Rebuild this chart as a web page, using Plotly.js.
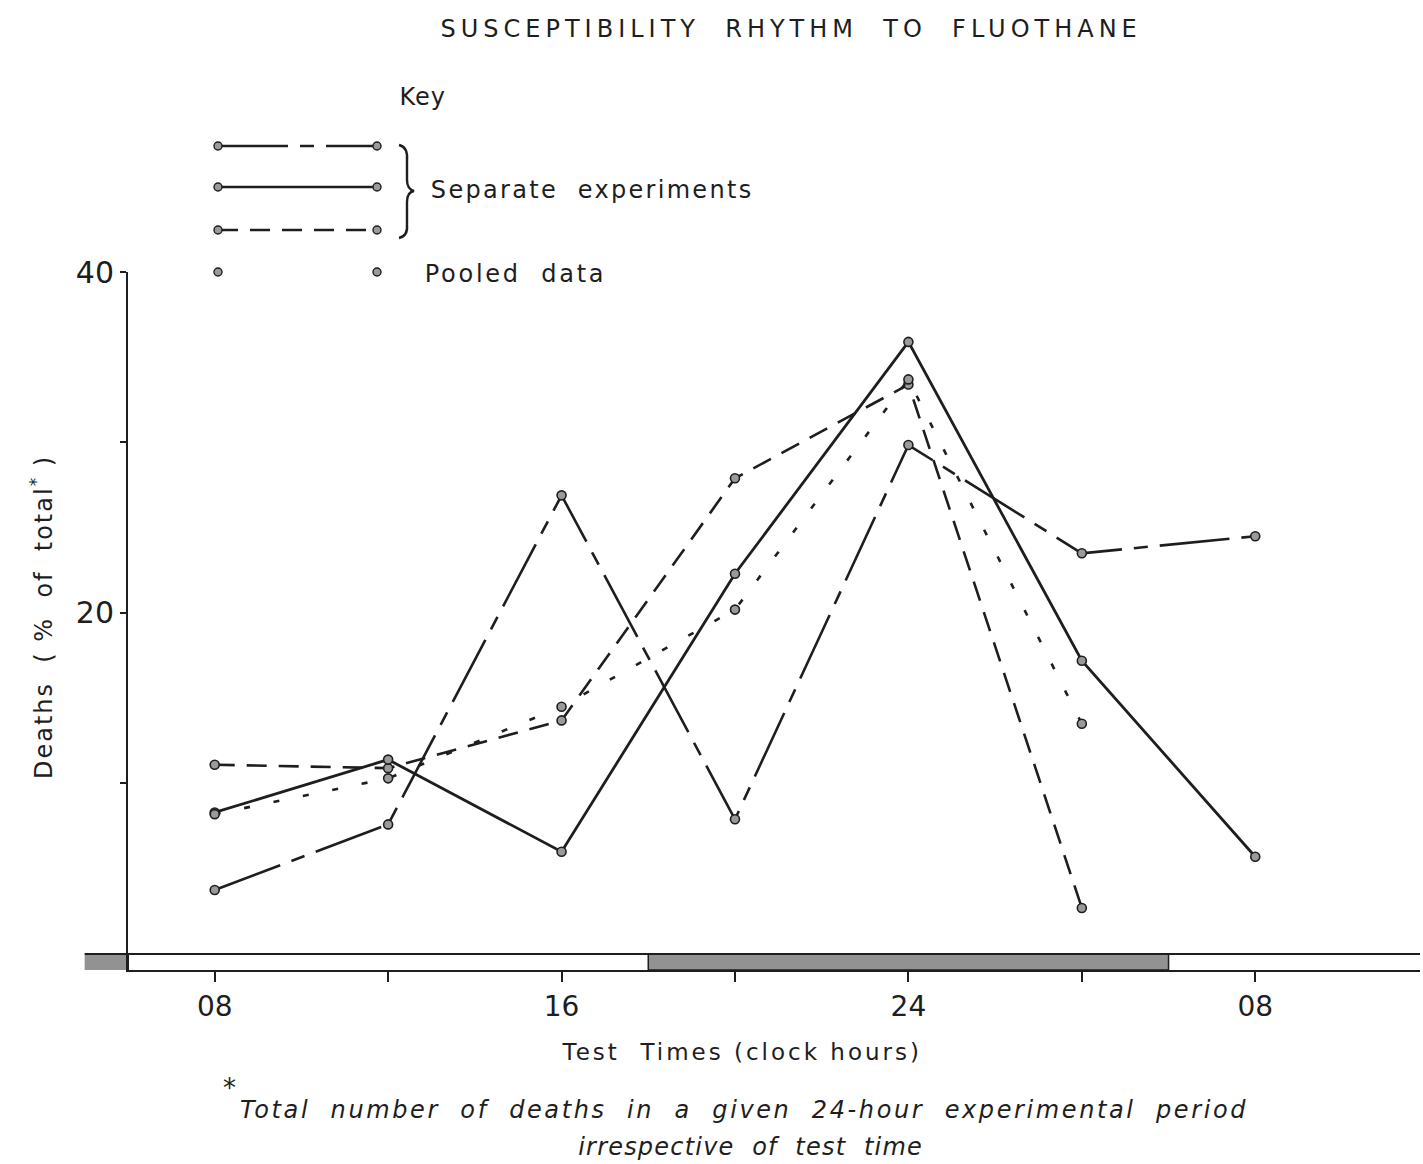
<!DOCTYPE html>
<html>
<head>
<meta charset="utf-8">
<script src="https://cdn.plot.ly/plotly-3.0.1.min.js"></script>
<style>
  html, body { margin: 0; padding: 0; background: #fff; }
  #chart { width: 1423px; height: 1164px; }
</style>
</head>
<body>
<div id="chart"></div>
<script>
// ---- data ----
const testHours  = [8, 12, 16, 20, 24, 28, 32];          // clock hours, 08 -> 08 next day
const labelHours = [8, 16, 24, 32];
const tickLabels = ['08', '16', '24', '08'];
const expA   = [3.75, 7.6, 26.9, 7.9, 29.85, 23.5, 24.5];  // dash-dot experiment
const expB   = [8.3, 11.4, 6.0, 22.3, 35.9, 17.2, 5.7];    // solid experiment
const expC   = [11.1, 10.9, 13.7, 27.9, 33.4, 2.7, null];  // dashed experiment
const pooled = [8.2, 10.3, 14.5, 20.2, 33.7, 13.5, null];  // pooled data
const yTickVals   = [20, 40];
const yTickLabels = ['20', '40'];
const darkStarts = [-6, 18];   // lights-off periods (hours)
const darkEnds   = [6, 30];

// ---- layout helpers ----
const FONT = 'DejaVu Sans, Verdana, sans-serif';
const INK = '#1e1e1e';
const L = 128, R = 1420, T = 272, B = 970;
const xMin = 6, xMax = 35.8, barLeftHour = 5;
const px = x => (x - L) / (R - L);
const py = y => (B - y) / (B - T);
const hourToPaper = h => (h - xMin) / (xMax - xMin);

const marker = { symbol: 'circle', size: 9, color: '#9a9a9a', line: { color: INK, width: 1.6 } };

const traces = [
  { x: testHours, y: expC, mode: 'lines+markers', line: { color: INK, width: 2.6, dash: '20px,12px' }, marker: marker },
  { x: testHours, y: expA, mode: 'lines+markers', line: { color: INK, width: 2.6, dash: '70px,12px,14px,12px' }, marker: marker },
  { x: testHours, y: expB, mode: 'lines+markers', line: { color: INK, width: 2.8 }, marker: marker },
  { x: testHours, y: pooled, mode: 'lines+markers', line: { color: INK, width: 2.6, dash: '6px,24px' }, marker: marker }
];

const shapes = [];
// light/dark bar under the axis (between y = barBottom and y = 0)
const barBottom = -0.94;
const DARK = '#929292';
darkStarts.forEach((s, i) => {
  const e = darkEnds[i];
  if (s < xMin) {
    shapes.push({ type: 'rect', xref: 'paper', yref: 'y', x0: hourToPaper(Math.max(s, barLeftHour)), x1: 0,
      y0: barBottom, y1: 0, fillcolor: DARK, line: { width: 0 }, layer: 'below' });
    shapes.push({ type: 'rect', xref: 'x', yref: 'y', x0: xMin, x1: e,
      y0: barBottom, y1: 0, fillcolor: DARK, line: { width: 0 }, layer: 'below' });
  } else {
    shapes.push({ type: 'rect', xref: 'x', yref: 'y', x0: s, x1: e,
      y0: barBottom, y1: 0, fillcolor: DARK, line: { color: INK, width: 1.5 }, layer: 'below' });
  }
});
// top edge of bar
shapes.push({ type: 'line', xref: 'paper', yref: 'y', x0: hourToPaper(barLeftHour), x1: 1, y0: 0, y1: 0,
  line: { color: INK, width: 2 } });
shapes.push({ type: 'line', xref: 'x', yref: 'y', x0: xMin, x1: xMin, y0: barBottom, y1: 0, line: { color: INK, width: 2 } });

// ---- key (legend) drawn in paper space ----
const keyX0 = 218, keyX1 = 377;
const keyRows = [
  { y: 146, dash: '70px,12px,14px,12px', line: true },
  { y: 187, dash: 'solid', line: true },
  { y: 230, dash: '20px,12px', line: true },
  { y: 272, dash: 'solid', line: false }
];
keyRows.forEach(r => {
  if (r.line) {
    shapes.push({ type: 'line', xref: 'paper', yref: 'paper', x0: px(keyX0), x1: px(keyX1), y0: py(r.y), y1: py(r.y),
      line: { color: INK, width: 2.4, dash: r.dash } });
  }
  [keyX0, keyX1].forEach(xx => {
    shapes.push({ type: 'circle', xref: 'paper', yref: 'paper',
      x0: px(xx - 4), x1: px(xx + 4), y0: py(r.y + 4), y1: py(r.y - 4),
      fillcolor: '#9a9a9a', line: { color: INK, width: 1.4 } });
  });
});
// curly brace
const bp = [[399,145],[408,147],[407,160],[407,180],[407,189],[414,191],[407,192],[407,202],[407,225],[408,236],[399,238]];
const P = i => px(bp[i][0]) + ',' + py(bp[i][1]);
shapes.push({ type: 'path', xref: 'paper', yref: 'paper',
  path: 'M' + P(0) + ' Q' + P(1) + ' ' + P(2) + ' L' + P(3) + ' Q' + P(4) + ' ' + P(5) +
        ' Q' + P(6) + ' ' + P(7) + ' L' + P(8) + ' Q' + P(9) + ' ' + P(10),
  line: { color: INK, width: 2.4 } });

const ann = (text, x, y, size, opts) => Object.assign({
  text: text, xref: 'paper', yref: 'paper', x: px(x), y: py(y), showarrow: false,
  font: { family: FONT, size: size, color: INK }, xanchor: 'center', yanchor: 'middle'
}, opts || {});

const annotations = [
  ann('SUSCEPTIBILITY  RHYTHM  TO  FLUOTHANE', 791, 29, 24),
  ann('Key', 423, 97, 24),
  ann('Separate  experiments', 592, 190, 24),
  ann('Pooled  data', 515, 274, 24),
  ann('Test  Times (clock hours)', 742, 1052, 23),
  ann('Deaths  ( %  of  total<sup>*</sup> )', 42, 617, 24, { textangle: -90 }),
  ann('*', 229, 1088, 26),
  ann('<i>Total  number  of  deaths  in  a  given  24-hour  experimental  period</i>', 744, 1110, 24),
  ann('<i>irrespective  of  test  time</i>', 750, 1147, 24)
];
// extra letter spacing (px) so the lettering matches the wide drawing-pen style
const letterSpacing = [5, 1, 2.3, 2.7, 3, 2, 0, 2.6, 1.2];

const layout = {
  width: 1423, height: 1164,
  margin: { l: L, r: 1423 - R, t: T, b: 1164 - B, pad: 0 },
  paper_bgcolor: '#fff', plot_bgcolor: '#fff',
  showlegend: false,
  xaxis: {
    range: [xMin, xMax], tickvals: labelHours, ticktext: tickLabels,
    ticks: 'outside', ticklen: 10, tickwidth: 2, tickcolor: INK,
    minor: { tick0: 0, dtick: 4, ticks: 'outside', ticklen: 10, tickwidth: 2, tickcolor: INK, showgrid: false },
    showline: true, linecolor: INK, linewidth: 2, showgrid: false, zeroline: false,
    tickfont: { family: FONT, size: 28, color: INK }
  },
  yaxis: {
    range: [barBottom, 40], tickvals: yTickVals, ticktext: yTickLabels,
    ticks: 'outside', ticklen: 6, tickwidth: 2, tickcolor: INK,
    minor: { tick0: 0, dtick: 10, ticks: 'outside', ticklen: 6, tickwidth: 2, tickcolor: INK, showgrid: false },
    showline: true, linecolor: INK, linewidth: 2, showgrid: false, zeroline: false,
    tickfont: { family: FONT, size: 30, color: INK }
  },
  shapes: shapes,
  annotations: annotations
};

Plotly.newPlot('chart', traces, layout, { staticPlot: true, displayModeBar: false }).then(() => {
  const texts = document.querySelectorAll('#chart .annotation-text');
  texts.forEach((t, i) => {
    if (letterSpacing[i]) t.style.letterSpacing = letterSpacing[i] + 'px';
  });
});
</script>
</body>
</html>
